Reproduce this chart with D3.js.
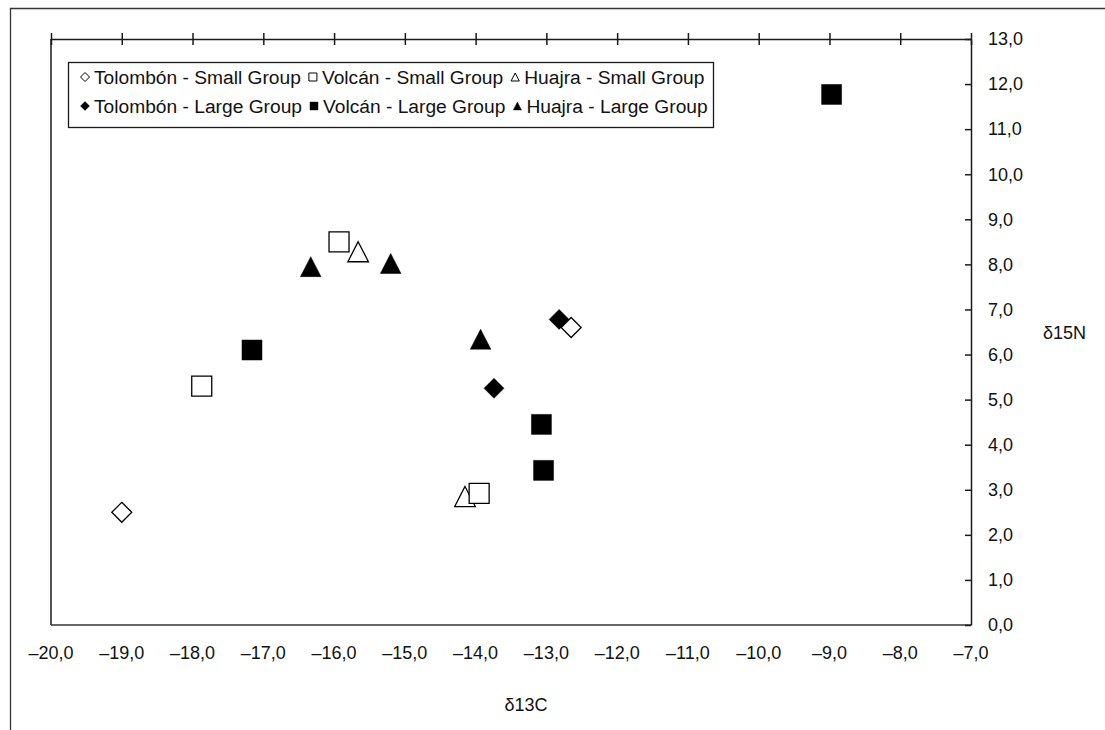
<!DOCTYPE html>
<html>
<head>
<meta charset="utf-8">
<script src="https://cdn.jsdelivr.net/npm/d3@7"></script>
<style>
  html, body { margin: 0; padding: 0; background: #fff; }
  svg text { font-family: "Liberation Sans", Arial, Helvetica, sans-serif; fill: #111; }
</style>
</head>
<body>
<svg id="chart" width="1105" height="730"></svg>
<script>
// ---- data ----
const seriesNames = [
  "Tolombón - Small Group", "Volcán - Small Group", "Huajra - Small Group",
  "Tolombón - Large Group", "Volcán - Large Group", "Huajra - Large Group"
];
const tolSmallX = [-19.0, -12.65];
const tolSmallY = [2.5, 6.6];
const volSmallX = [-15.93, -17.87, -13.95];
const volSmallY = [8.5, 5.3, 2.92];
const huaSmallX = [-15.66, -14.15];
const huaSmallY = [8.28, 2.85];
const tolLargeX = [-12.82, -13.74];
const tolLargeY = [6.78, 5.25];
const volLargeX = [-17.16, -13.07, -13.04, -8.97];
const volLargeY = [6.1, 4.45, 3.43, 11.77];
const huaLargeX = [-16.33, -15.2, -13.93];
const huaLargeY = [7.95, 8.02, 6.34];
const xTicks = [-20, -19, -18, -17, -16, -15, -14, -13, -12, -11, -10, -9, -8, -7];
const yTicks = [0, 1, 2, 3, 4, 5, 6, 7, 8, 9, 10, 11, 12, 13];
const xTitle = "δ13C";
const yTitle = "δ15N";

// ---- setup ----
const svg = d3.select("#chart");
const L = 51, R = 971, T = 39, B = 625;
const x = d3.scaleLinear().domain([-20, -7]).range([L, R]);
const y = d3.scaleLinear().domain([0, 13]).range([B, T]);
const fmt = v => d3.format(".1f")(v).replace(".", ",").replace("-", "\u2013").replace("\u2212", "\u2013");
const ink = "#1a1a1a";
const tickFont = 18, legFont = 19.2;

// outer frame (extends past window)
svg.append("path").attr("d", "M10.5,740 L10.5,8.5 L1120,8.5")
  .attr("fill", "none").attr("stroke", "#333").attr("stroke-width", 1.3);

// plot box: left and bottom lines
svg.append("line").attr("x1", L).attr("x2", L).attr("y1", T).attr("y2", B)
  .attr("stroke", ink).attr("stroke-width", 1.5);
svg.append("line").attr("x1", L).attr("x2", R).attr("y1", B).attr("y2", B)
  .attr("stroke", "#333").attr("stroke-width", 1.5);

// top axis with crossing ticks (no labels)
const topAx = svg.append("g").attr("transform", `translate(0,${T})`)
  .call(d3.axisTop(x).tickValues(xTicks).tickSizeInner(6).tickSizeOuter(0).tickFormat(""));
topAx.select(".domain").attr("stroke", ink).attr("stroke-width", 1.5);
topAx.selectAll(".tick line").attr("stroke", ink).attr("stroke-width", 1.5).attr("y2", 6).attr("y1", -6);

// right axis with inward ticks
const rightAx = svg.append("g").attr("transform", `translate(${R},0)`)
  .call(d3.axisLeft(y).tickValues(yTicks).tickSizeInner(6).tickSizeOuter(0).tickFormat(""));
rightAx.select(".domain").attr("stroke", ink).attr("stroke-width", 1.5);
rightAx.selectAll(".tick line").attr("stroke", ink).attr("stroke-width", 1.5);

// y labels (right side)
svg.append("g").selectAll("text").data(yTicks).join("text")
  .attr("x", 988).attr("y", d => y(d)).attr("dy", "0.35em")
  .attr("font-size", tickFont).attr("text-anchor", "start").text(fmt);

// x labels (bottom)
svg.append("g").selectAll("text").data(xTicks).join("text")
  .attr("x", d => x(d)).attr("y", 653).attr("dy", "0.35em")
  .attr("font-size", tickFont).attr("text-anchor", "middle").text(fmt);

// axis titles
svg.append("text").attr("x", 526).attr("y", 705).attr("dy", "0.35em")
  .attr("text-anchor", "middle").attr("font-size", tickFont).text(xTitle);
svg.append("text").attr("x", 1043).attr("y", 333).attr("dy", "0.35em")
  .attr("text-anchor", "start").attr("font-size", tickFont).text(yTitle);

// ---- marker shapes ----
function shapePath(kind, s) {
  const h = s / 2;
  if (kind === "diamond") return `M0,${-h}L${h},0L0,${h}L${-h},0Z`;
  if (kind === "square") return `M${-h},${-h}L${h},${-h}L${h},${h}L${-h},${h}Z`;
  return `M0,${-h}L${h * 1.03},${h}L${-h * 1.03},${h}Z`;
}
const series = [
  { name: seriesNames[3], xs: tolLargeX, ys: tolLargeY, kind: "diamond", filled: true },
  { name: seriesNames[4], xs: volLargeX, ys: volLargeY, kind: "square", filled: true },
  { name: seriesNames[5], xs: huaLargeX, ys: huaLargeY, kind: "triangle", filled: true },
  { name: seriesNames[2], xs: huaSmallX, ys: huaSmallY, kind: "triangle", filled: false },
  { name: seriesNames[0], xs: tolSmallX, ys: tolSmallY, kind: "diamond", filled: false },
  { name: seriesNames[1], xs: volSmallX, ys: volSmallY, kind: "square", filled: false }
];
series.forEach(s => {
  const pts = s.xs.map((v, i) => [v, s.ys[i]]);
  svg.append("g").selectAll("path").data(pts).join("path")
    .attr("transform", d => `translate(${x(d[0])},${y(d[1])})`)
    .attr("d", shapePath(s.kind, 20))
    .attr("fill", s.filled ? "#000" : "#fff")
    .attr("stroke", "#000").attr("stroke-width", s.filled ? 0.5 : 1.3);
});

// ---- legend ----
const legRows = [
  [{ n: seriesNames[0], k: "diamond", f: false }, { n: seriesNames[1], k: "square", f: false }, { n: seriesNames[2], k: "triangle", f: false }],
  [{ n: seriesNames[3], k: "diamond", f: true }, { n: seriesNames[4], k: "square", f: true }, { n: seriesNames[5], k: "triangle", f: true }]
];
const leg = svg.append("g");
leg.append("rect").attr("x", 68.5).attr("y", 62.5).attr("width", 645).attr("height", 65)
  .attr("fill", "#fff").attr("stroke", ink).attr("stroke-width", 1.3);
const rowY = [77, 106];
legRows.forEach((row, ri) => {
  let cx = 81;
  row.forEach(it => {
    leg.append("path").attr("transform", `translate(${cx + 4},${rowY[ri]})`)
      .attr("d", shapePath(it.k, it.k === "diamond" ? 9 : 8))
      .attr("fill", it.f ? "#000" : "#fff").attr("stroke", "#000").attr("stroke-width", it.f ? 0.4 : 1);
    const t = leg.append("text").attr("x", cx + 13).attr("y", rowY[ri]).attr("dy", "0.35em")
      .attr("font-size", legFont).text(it.n);
    cx = cx + 13 + t.node().getComputedTextLength() + 8;
  });
});
</script>
</body>
</html>
